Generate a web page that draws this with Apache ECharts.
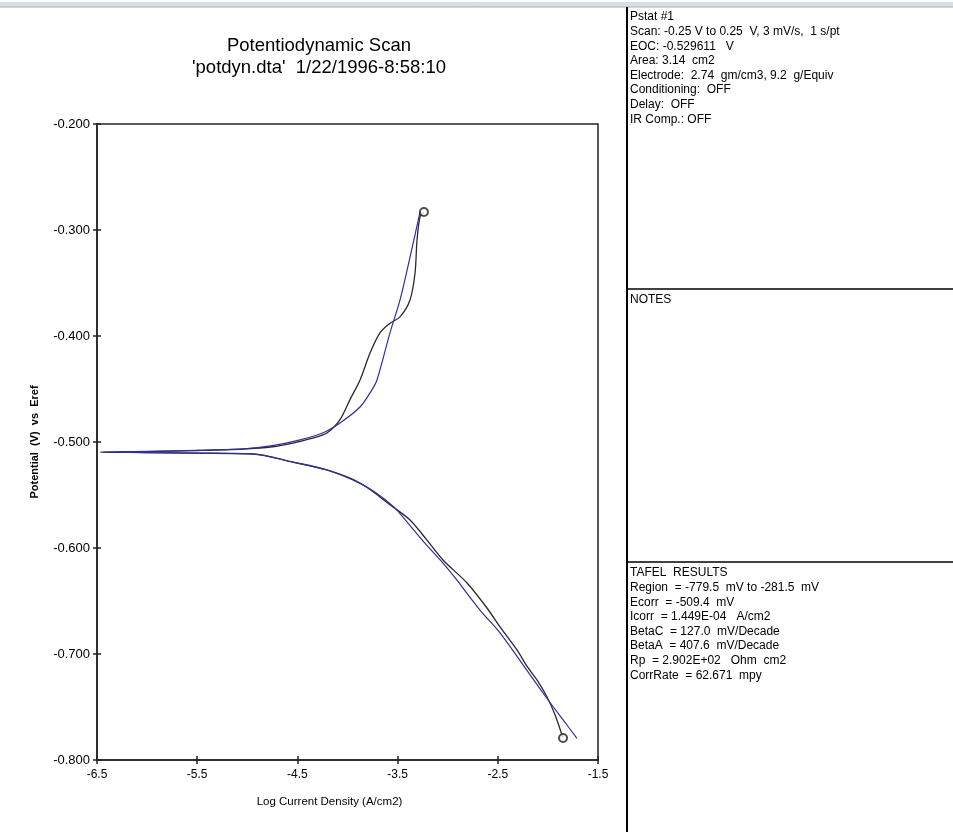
<!DOCTYPE html>
<html lang="en">
<head>
<meta charset="UTF-8">
<title>Potentiodynamic Scan</title>
<script src="https://cdn.jsdelivr.net/npm/echarts@6/dist/echarts.min.js"></script>
<style>
    html, body { margin: 0; padding: 0; background: #fff; }
    #chart { width: 953px; height: 832px; }
</style>
</head>
<body>
<div id="chart"></div>
<script>
// measured scan (black), ordered from cathodic end up through Ecorr to anodic end
var measLogI = [-1.849, -1.869, -1.93, -2.009, -2.109, -2.209, -2.308, -2.478, -2.608, -2.807, -3.047, -3.207, -3.376, -3.546, -3.875, -4.205, -4.544, -4.943, -5.5, -6.0, -6.47,
    -6.0, -5.5, -5.043, -4.75, -4.544, -4.37, -4.205, -4.075, -3.975, -3.875, -3.775, -3.676, -3.576, -3.476, -3.376, -3.326, -3.306, -3.276, -3.237];
var measE = [-0.7792, -0.7736, -0.757, -0.7406, -0.7245, -0.7115, -0.6962, -0.6745, -0.6566, -0.633, -0.6113, -0.5925, -0.5736, -0.5613, -0.5387, -0.5264, -0.519, -0.5113, -0.5105, -0.51, -0.5096,
    -0.509, -0.508, -0.5066, -0.5045, -0.501, -0.4968, -0.4915, -0.479, -0.46, -0.4415, -0.416, -0.397, -0.388, -0.382, -0.366, -0.3406, -0.3094, -0.2877, -0.283];

// Tafel fit (blue)
var fitLogI = [-1.71, -1.85, -2.049, -2.209, -2.478, -2.678, -2.927, -3.047, -3.25, -3.476, -3.546, -3.7, -3.875, -4.205, -4.544, -4.943, -5.5, -6.0, -6.44,
    -6.0, -5.5, -5.043, -4.75, -4.474, -4.25, -4.075, -3.875, -3.758, -3.706, -3.576, -3.476, -3.376, -3.276];
var fitE = [-0.7795, -0.762, -0.7368, -0.7155, -0.68, -0.6585, -0.628, -0.6142, -0.593, -0.5675, -0.5605, -0.549, -0.539, -0.5264, -0.519, -0.5113, -0.5105, -0.51, -0.5094,
    -0.5088, -0.5078, -0.5066, -0.5035, -0.498, -0.4915, -0.482, -0.467, -0.451, -0.4415, -0.397, -0.366, -0.3255, -0.283];

var xTicks = [-6.5, -5.5, -4.5, -3.5, -2.5, -1.5];

var setupLines = ['Pstat #1', 'Scan: -0.25 V to 0.25  V, 3 mV/s,  1 s/pt', 'EOC: -0.529611   V', 'Area: 3.14  cm2',
    'Electrode:  2.74  gm/cm3, 9.2  g/Equiv', 'Conditioning:  OFF', 'Delay:  OFF', 'IR Comp.: OFF'];
var tafelLines = ['TAFEL  RESULTS', 'Region  = -779.5  mV to -281.5  mV', 'Ecorr  = -509.4  mV', 'Icorr  = 1.449E-04   A/cm2',
    'BetaC  = 127.0  mV/Decade', 'BetaA  = 407.6  mV/Decade', 'Rp  = 2.902E+02   Ohm  cm2', 'CorrRate  = 62.671  mpy'];

function zip(a, b) {
    return a.map(function (v, i) { return [v, b[i]]; });
}

var font = 'Liberation Sans, Arial, sans-serif';
var myChart = echarts.init(document.getElementById('chart'));

// right-hand info panel
var graphics = [
    { type: 'rect', shape: { x: 0, y: 2, width: 953, height: 5 }, style: { fill: '#d9dde5' } },
    { type: 'line', shape: { x1: 0, y1: 7, x2: 953, y2: 7 }, style: { stroke: '#a9aeb8', lineWidth: 1 } },
    { type: 'line', shape: { x1: 627, y1: 7, x2: 627, y2: 832 }, style: { stroke: '#000', lineWidth: 2 } },
    { type: 'line', shape: { x1: 627, y1: 289, x2: 953, y2: 289 }, style: { stroke: '#000', lineWidth: 1.5 } },
    { type: 'line', shape: { x1: 627, y1: 562, x2: 953, y2: 562 }, style: { stroke: '#000', lineWidth: 1.5 } },
    { type: 'text', x: 630, y: 300, style: { text: 'NOTES', font: '12px ' + font, fill: '#000', textVerticalAlign: 'middle' } }
];
setupLines.forEach(function (t, i) {
    graphics.push({ type: 'text', x: 630, y: 17 + i * 14.6, style: { text: t, font: '12px ' + font, fill: '#000', textVerticalAlign: 'middle' } });
});
tafelLines.forEach(function (t, i) {
    graphics.push({ type: 'text', x: 630, y: 573 + i * 14.6, style: { text: t, font: '12px ' + font, fill: '#000', textVerticalAlign: 'middle' } });
});

var axisLine = { lineStyle: { color: '#222', width: 1.5 } };

option = {
    backgroundColor: '#fff',
    animation: false,
    title: {
        text: 'Potentiodynamic Scan\n\'potdyn.dta\'  1/22/1996-8:58:10',
        left: 314,
        top: 30,
        textAlign: 'center',
        textStyle: { fontFamily: font, fontSize: 18.5, fontWeight: 'normal', color: '#000', lineHeight: 22 }
    },
    grid: {
        left: 97, top: 124, width: 501, height: 636,
        show: true, borderColor: '#222', borderWidth: 1.5, backgroundColor: 'transparent'
    },
    xAxis: [{
        type: 'value', min: -6.5, max: -1.5, position: 'bottom',
        name: 'Log Current Density (A/cm2)', nameLocation: 'middle', nameGap: 36,
        nameTextStyle: { fontFamily: font, fontSize: 11.5, color: '#000', padding: [0, 36, 0, 0] },
        axisLine: axisLine,
        axisTick: { show: true, inside: false, length: 4, lineStyle: { color: '#222', width: 1.5 }, customValues: xTicks },
        axisLabel: { customValues: xTicks, margin: 9, fontFamily: font, fontSize: 12, color: '#000', formatter: function (v) { return v.toFixed(1); } },
        splitLine: { show: false }
    }, {
        type: 'value', min: -6.5, max: -1.5, position: 'bottom',
        axisLine: { show: false },
        axisTick: { show: true, inside: true, length: 4, lineStyle: { color: '#222', width: 1.5 }, customValues: xTicks },
        axisLabel: { show: false },
        splitLine: { show: false }
    }],
    yAxis: [{
        type: 'value', min: -0.8, max: -0.2, interval: 0.1, position: 'left',
        name: 'Potential  (V)  vs  Eref', nameLocation: 'middle', nameGap: 57, nameRotate: 90,
        nameTextStyle: { fontFamily: font, fontSize: 11, color: '#000', fontWeight: 'bold' },
        axisLine: axisLine,
        axisTick: { show: true, inside: false, length: 4, lineStyle: { color: '#222', width: 1.5 } },
        axisLabel: { margin: 7, fontFamily: font, fontSize: 13, color: '#000', formatter: function (v) { return v.toFixed(3); } },
        splitLine: { show: false }
    }, {
        type: 'value', min: -0.8, max: -0.2, interval: 0.1, position: 'left',
        axisLine: { show: false },
        axisTick: { show: true, inside: true, length: 4, lineStyle: { color: '#222', width: 1.5 } },
        axisLabel: { show: false },
        splitLine: { show: false }
    }],
    graphic: graphics,
    series: [{
        name: 'Measured',
        type: 'line',
        data: zip(measLogI, measE),
        showSymbol: false,
        smooth: 0.3,
        lineStyle: { color: '#2a2a2a', width: 1.3 },
        z: 2
    }, {
        name: 'Fit',
        type: 'line',
        data: zip(fitLogI, fitE),
        showSymbol: false,
        smooth: 0.3,
        lineStyle: { color: '#2f2fa0', width: 1.2 },
        z: 3
    }, {
        name: 'Ends',
        type: 'scatter',
        data: [[measLogI[0], measE[0]], [measLogI[measLogI.length - 1], measE[measE.length - 1]]],
        symbol: 'emptyCircle',
        symbolSize: 8,
        itemStyle: { color: '#222', borderWidth: 1.5 },
        z: 4
    }]
};
myChart.setOption(option);
</script>
</body>
</html>
